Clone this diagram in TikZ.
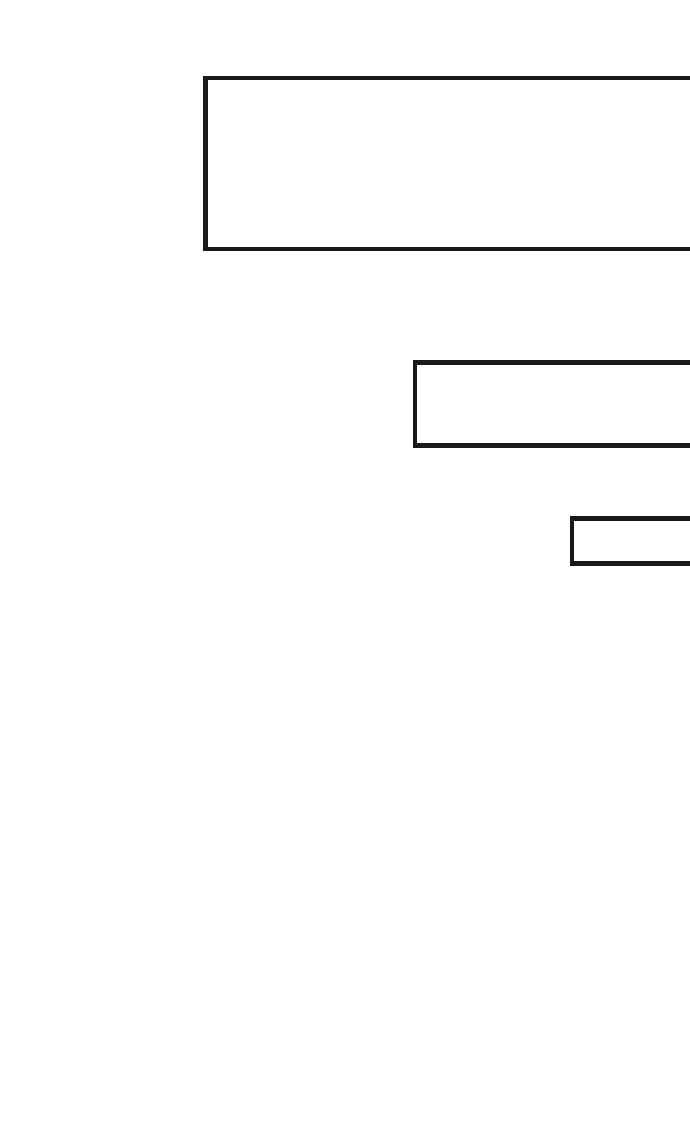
\documentclass[tikz,border=0pt]{standalone}
\begin{document}
\begin{tikzpicture}[x=1pt,y=1pt,
  box/.style={draw=black!90, line width=4.5pt, rectangle, inner sep=0pt, anchor=north west, fill=white}]
\useasboundingbox (0,0) rectangle (690,1141);
\clip (0,0) rectangle (690,1141);
\node[box, minimum width=540pt, minimum height=171pt] (b1) at (203,1065) {};
\node[box, minimum width=330pt, minimum height=83pt] (b2) at (412.5,780.5) {};
\node[box, minimum width=170pt, minimum height=45pt] (b3) at (569.5,624.5) {};
\end{tikzpicture}
\end{document}
